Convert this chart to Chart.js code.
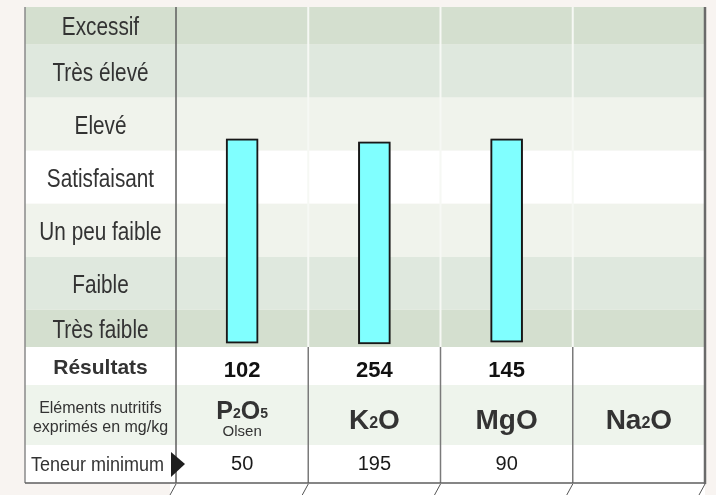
<!DOCTYPE html>
<html>
<head>
<meta charset="utf-8">
<script src="https://cdn.jsdelivr.net/npm/chart.js@4.4.1/dist/chart.umd.min.js"></script>
<style>
  html, body { margin: 0; padding: 0; background: #f8f4f1; }
  canvas { display: block; }
</style>
</head>
<body>
<canvas id="myChart" width="716" height="495"></canvas>
<script>
// soil analysis: nutrient levels against interpretation classes
const elements = ['P2O5', 'K2O', 'MgO', 'Na2O'];
const resultats = ['102', '254', '145', ''];
const methodes = ['Olsen', '', '', ''];
const teneurMin = ['50', '195', '90', ''];

// bar span [bottom, top] on the class scale
const niveaux = [[0.7, 39.2], [0.6, 38.6], [0.9, 39.2], null];

// interpretation classes, bottom to top, and their limits on the class scale
const classes = ['Très faible', 'Faible', 'Un peu faible', 'Satisfaisant', 'Elevé', 'Très élevé', 'Excessif'];
const limites = [0, 7, 17, 27, 37, 47, 57, 64];
const centres = classes.map((c, i) => (limites[i] + limites[i + 1]) / 2);

const bandColors = ['#d4dfcf', '#dfe8de', '#f0f3ec', '#ffffff', '#f0f3ec', '#dfe8de', '#d4dfcf'];
const FONT = '"Liberation Sans", Arial, sans-serif';
const TABLE_LEFT = 25;
const rowHeights = [38, 60, 38];
const rowColors = ['#ffffff', '#eef4ec', '#ffffff'];

function columnEdges(chart) {
  const x = chart.scales.x, a = chart.chartArea;
  const edges = [a.left];
  for (let i = 0; i < elements.length - 1; i++) {
    edges.push((x.getPixelForValue(i) + x.getPixelForValue(i + 1)) / 2);
  }
  edges.push(a.right);
  return edges;
}

// text squeezed horizontally, like a narrow face
function narrowText(ctx, txt, cx, cy, font, squeeze) {
  ctx.save();
  ctx.translate(cx, cy);
  ctx.scale(squeeze, 1);
  ctx.font = font;
  ctx.textAlign = 'center';
  ctx.textBaseline = 'middle';
  ctx.fillText(txt, 0, 0);
  ctx.restore();
}

// chemical formula with digits written as subscripts
function drawFormule(ctx, txt, cx, base, size) {
  const parts = txt.split(/(\d)/).filter(s => s);
  const big = 'bold ' + size + 'px ' + FONT;
  const small = 'bold ' + Math.round(size * 0.58) + 'px ' + FONT;
  let w = 0;
  parts.forEach(p => { ctx.font = /\d/.test(p) ? small : big; w += ctx.measureText(p).width; });
  let xx = cx - w / 2;
  ctx.textAlign = 'left';
  ctx.textBaseline = 'alphabetic';
  parts.forEach(p => {
    const sub = /\d/.test(p);
    ctx.font = sub ? small : big;
    ctx.fillText(p, xx, sub ? base - 1 : base);
    xx += ctx.measureText(p).width;
  });
}

const tableau = {
  id: 'tableau',
  beforeDraw(chart) {
    const {ctx, chartArea: a, scales: {y}} = chart;
    const edges = columnEdges(chart);
    ctx.save();
    ctx.fillStyle = '#f8f4f1';
    ctx.fillRect(0, 0, chart.width, chart.height);

    // class bands across the label column and the plot
    classes.forEach((c, i) => {
      const top = y.getPixelForValue(limites[i + 1]);
      const bot = y.getPixelForValue(limites[i]);
      ctx.fillStyle = bandColors[i];
      ctx.fillRect(TABLE_LEFT, top, a.right - TABLE_LEFT, bot - top);
    });

    // table rows under the plot
    let yy = a.bottom;
    rowHeights.forEach((h, i) => {
      ctx.fillStyle = rowColors[i];
      ctx.fillRect(TABLE_LEFT, yy, a.right - TABLE_LEFT, h);
      yy += h;
    });
    ctx.fillStyle = '#ffffff';
    ctx.fillRect(a.left - 6, yy, a.right - a.left + 6, chart.height - yy);

    // light separators between columns inside the bands
    ctx.strokeStyle = '#f6f8f4';
    ctx.lineWidth = 2;
    edges.slice(1, -1).forEach(ex => {
      ctx.beginPath();
      ctx.moveTo(ex, a.top);
      ctx.lineTo(ex, a.bottom);
      ctx.stroke();
    });
    ctx.restore();
  },
  // soft grey halo round the bars
  beforeDatasetsDraw(chart) {
    chart.ctx.save();
    chart.ctx.shadowColor = 'rgba(0,0,0,0.35)';
    chart.ctx.shadowBlur = 2;
  },
  afterDatasetsDraw(chart) {
    chart.ctx.restore();
  },
  afterDraw(chart) {
    const {ctx, chartArea: a, scales: {x, y}} = chart;
    const edges = columnEdges(chart);
    const labelX = (TABLE_LEFT + a.left) / 2;
    const r0 = a.bottom, r1 = r0 + rowHeights[0], r2 = r1 + rowHeights[1], r3 = r2 + rowHeights[2];
    ctx.save();

    // class names, one per band
    ctx.fillStyle = '#333';
    classes.forEach((c, i) => {
      narrowText(ctx, c, labelX, y.getPixelForValue(centres[i]) + 3, '25px ' + FONT, 0.83);
    });

    // table grid
    ctx.strokeStyle = '#7a7a7a';
    ctx.lineWidth = 1.5;
    edges.slice(1, -1).forEach(ex => {
      ctx.beginPath();
      ctx.moveTo(ex, r0);
      ctx.lineTo(ex, r3);
      ctx.stroke();
    });
    ctx.strokeStyle = '#8a8a8a';
    ctx.beginPath();
    ctx.moveTo(TABLE_LEFT, a.top);
    ctx.lineTo(TABLE_LEFT, r3);
    ctx.stroke();
    ctx.strokeStyle = '#5e5e5e';
    ctx.beginPath();
    ctx.moveTo(a.left, a.top);
    ctx.lineTo(a.left, r3);
    ctx.stroke();
    ctx.beginPath();
    ctx.moveTo(TABLE_LEFT, r3);
    ctx.lineTo(a.right, r3);
    ctx.stroke();
    ctx.lineWidth = 2.5;
    ctx.strokeStyle = '#6a6a6a';
    ctx.beginPath();
    ctx.moveTo(a.right, a.top);
    ctx.lineTo(a.right, r3 + 1);
    ctx.stroke();

    // slanted ticks of the axis strip below the table
    ctx.lineWidth = 1;
    ctx.strokeStyle = '#555';
    edges.forEach(ex => {
      ctx.beginPath();
      ctx.moveTo(ex, r3 + 1);
      ctx.lineTo(ex - 6, chart.height);
      ctx.stroke();
    });

    // row headers
    ctx.fillStyle = '#333';
    ctx.textAlign = 'center';
    ctx.textBaseline = 'middle';
    ctx.font = 'bold 21px ' + FONT;
    ctx.fillText('Résultats', labelX, (r0 + r1) / 2 + 2);
    ctx.font = '16px ' + FONT;
    ctx.fillText('Eléments nutritifs', labelX, r1 + 24);
    ctx.fillText('exprimés en mg/kg', labelX, r1 + 43);
    narrowText(ctx, 'Teneur minimum', labelX - 3, (r2 + r3) / 2 + 1, '20px ' + FONT, 0.9);

    // marker before the minimum row
    ctx.fillStyle = '#1e1e1e';
    ctx.beginPath();
    ctx.moveTo(a.left - 5, r2 + 7);
    ctx.lineTo(a.left + 9, (r2 + r3) / 2);
    ctx.lineTo(a.left - 5, r3 - 6);
    ctx.closePath();
    ctx.fill();

    // column contents
    elements.forEach((el, i) => {
      const cx = x.getPixelForValue(i);
      ctx.fillStyle = '#111';
      ctx.textAlign = 'center';
      ctx.textBaseline = 'middle';
      ctx.font = 'bold 22px ' + FONT;
      ctx.fillText(resultats[i], cx, (r0 + r1) / 2 + 5);

      ctx.fillStyle = '#333';
      if (methodes[i]) {
        drawFormule(ctx, el, cx, r1 + 34, 25);
        ctx.font = '15px ' + FONT;
        ctx.textAlign = 'center';
        ctx.textBaseline = 'middle';
        ctx.fillText(methodes[i], cx, r1 + 47);
      } else {
        drawFormule(ctx, el, cx, r1 + 44, 28);
      }

      ctx.fillStyle = '#1a1a1a';
      ctx.font = '20px ' + FONT;
      ctx.textAlign = 'center';
      ctx.textBaseline = 'middle';
      ctx.fillText(teneurMin[i], cx, (r2 + r3) / 2);
    });
    ctx.restore();
  }
};

const ctx = document.getElementById('myChart');

let myChart = new Chart(ctx, {
  type: 'bar',
  data: {
    labels: elements,
    datasets: [{
      data: niveaux,
      backgroundColor: '#80ffff',
      borderColor: '#1a1a1a',
      borderWidth: 2,
      borderSkipped: false,
      barThickness: 32
    }]
  },
  options: {
    responsive: false,
    animation: false,
    layout: {
      padding: { left: TABLE_LEFT, top: 7, right: 11, bottom: 148 }
    },
    scales: {
      x: { display: false },
      y: {
        min: 0,
        max: 64,
        afterFit(scale) {
          scale.width = 151;
          scale.paddingTop = 0;
          scale.paddingBottom = 0;
        },
        afterBuildTicks(scale) { scale.ticks = centres.map(v => ({ value: v })); },
        grid: { display: false, drawTicks: false, tickLength: 0 },
        border: { display: false },
        ticks: { display: false }
      }
    },
    plugins: {
      legend: { display: false },
      tooltip: { enabled: false }
    }
  },
  plugins: [tableau]
});
</script>
</body>
</html>
